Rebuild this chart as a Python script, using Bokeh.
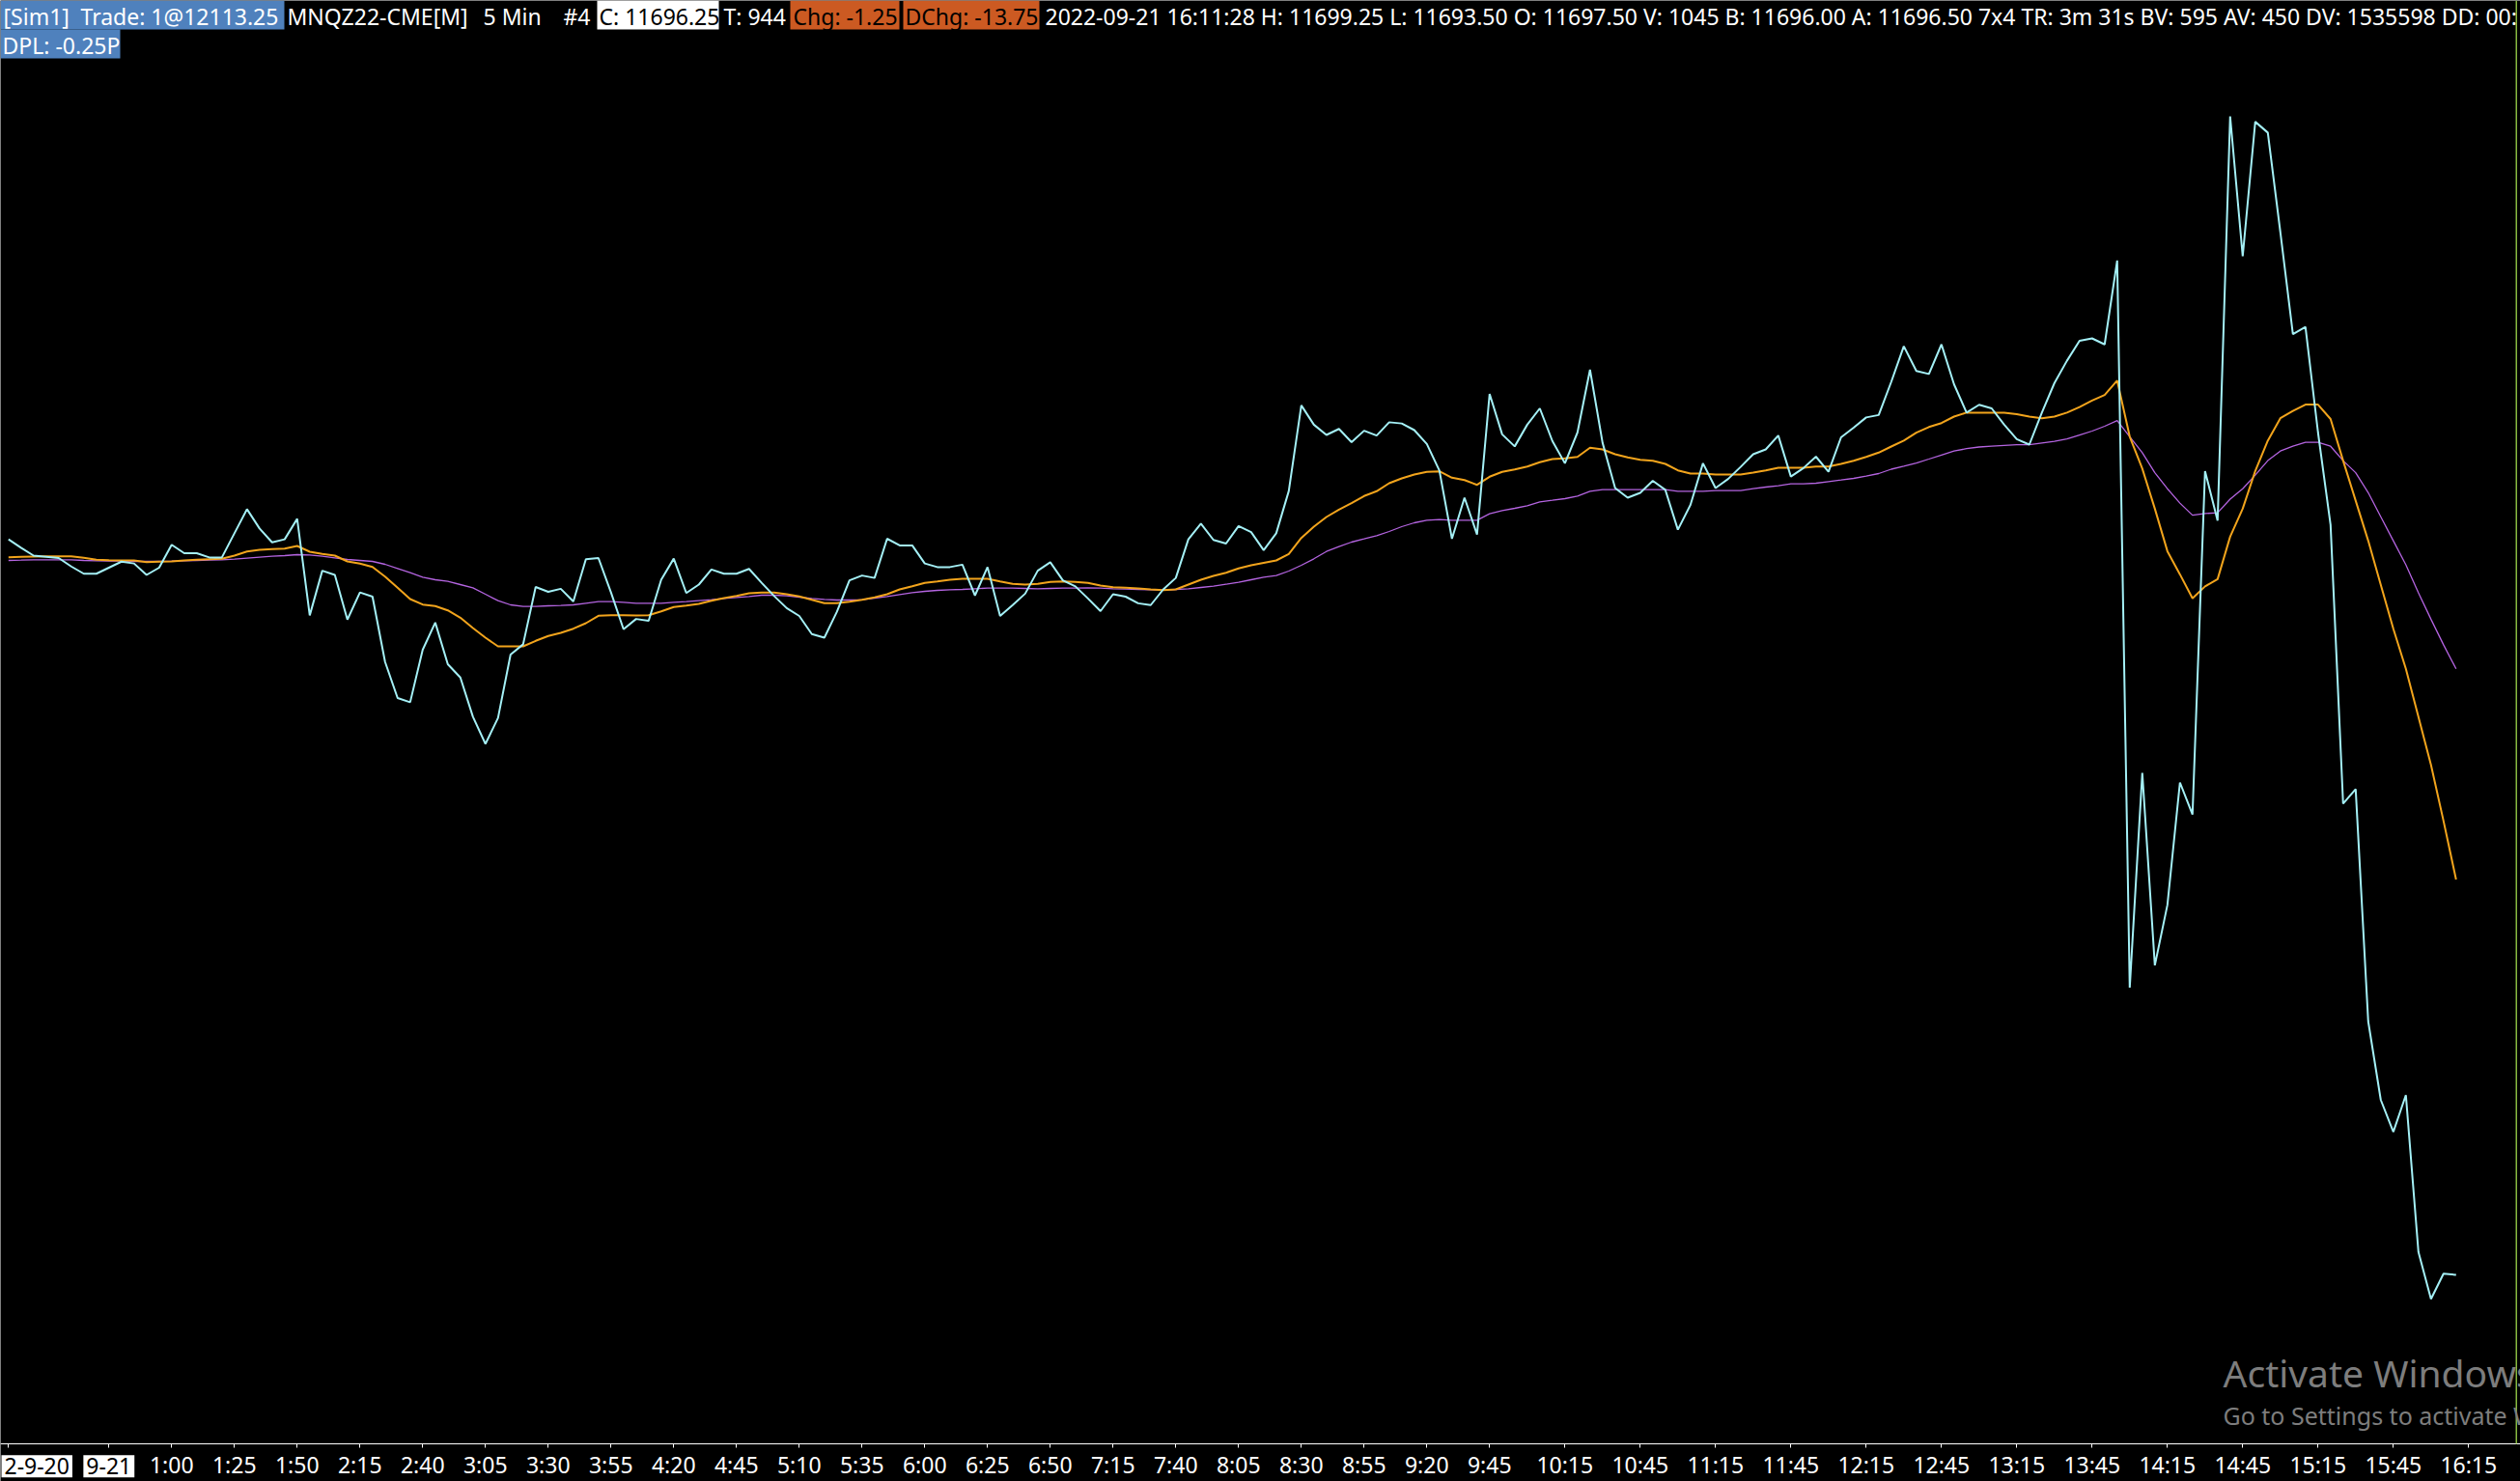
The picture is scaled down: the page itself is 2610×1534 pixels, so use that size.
from bokeh.plotting import figure
from bokeh.models import Range1d, LinearAxis, FixedTicker, Label, BoxAnnotation
from bokeh.embed import file_html
from bokeh.resources import INLINE

# ---------------- data ----------------
bars = list(range(196))  # 5-minute bars

close = [
    12001.0, 11997.5, 11994.25, 11993.75, 11993.25, 11989.75, 11986.75, 11986.75, 11989.25, 11991.75,
    11991.0, 11986.25, 11989.25, 11998.75, 11995.25, 11995.25, 11993.5, 11993.5, 12003.5, 12013.5,
    12005.5, 11999.75, 12001.0, 12009.5, 11969.5, 11988.0, 11986.25, 11967.75, 11979.0, 11977.25,
    11950.25, 11935.25, 11933.5, 11955.25, 11966.5, 11949.25, 11943.75, 11927.5, 11916.25, 11927.0,
    11953.25, 11957.5, 11981.25, 11979.25, 11980.5, 11975.25, 11992.75, 11993.25, 11979.0, 11963.75,
    11968.0, 11967.25, 11984.25, 11993.0, 11978.75, 11982.25, 11988.5, 11986.75, 11986.75, 11988.75,
    11983.0, 11977.5, 11972.5, 11969.25, 11961.75, 11960.25, 11971.0, 11984.0, 11986.0, 11985.0,
    12001.25, 11998.5, 11998.5, 11991.0, 11989.5, 11989.5, 11990.5, 11977.75, 11989.5, 11969.25,
    11973.75, 11978.5, 11988.0, 11991.5, 11984.0, 11981.5, 11976.5, 11971.25, 11978.25, 11977.25,
    11974.5, 11973.75, 11980.25, 11985.0, 12001.0, 12007.5, 12000.75, 11999.25, 12006.5, 12004.0,
    11996.5, 12003.5, 12021.0, 12056.5, 12048.5, 12044.25, 12046.75, 12041.25, 12046.0, 12044.0,
    12049.5, 12049.0, 12046.25, 12040.5, 12029.5, 12001.25, 12018.25, 12003.0, 12061.25, 12044.5,
    12039.5, 12048.5, 12055.25, 12041.75, 12032.5, 12045.25, 12071.25, 12041.0, 12022.25, 12018.25,
    12020.25, 12025.25, 12021.5, 12005.0, 12015.25, 12032.5, 12022.25, 12026.0, 12031.0, 12036.25,
    12038.25, 12044.0, 12027.0, 12030.5, 12035.25, 12029.0, 12043.25, 12047.25, 12051.5, 12052.5,
    12066.25, 12081.0, 12070.75, 12069.5, 12081.75, 12065.25, 12053.5, 12056.75, 12055.25, 12048.5,
    12042.5, 12040.25, 12053.5, 12065.75, 12075.0, 12083.25, 12084.25, 12081.75, 12116.5, 11815.25,
    11904.25, 11824.5, 11849.5, 11900.25, 11887.0, 12029.25, 12008.75, 12176.25, 12118.25, 12174.0,
    12169.5, 12128.25, 12086.0, 12089.0, 12045.25, 12007.0, 11891.5, 11897.5, 11801.25, 11768.75,
    11755.5, 11770.75, 11705.75, 11686.25, 11696.75, 11696.25,
]

avg_fast = [
    11993.57, 11993.73, 11993.85, 11993.93, 11993.97, 11993.97, 11993.33, 11992.53, 11992.37, 11992.25,
    11992.25, 11991.57, 11991.73, 11991.85, 11992.25, 11992.53, 11992.77, 11992.93, 11994.25, 11995.97,
    11996.65, 11996.93, 11997.17, 11998.25, 11995.85, 11994.93, 11994.25, 11991.85, 11990.93, 11989.57,
    11985.57, 11980.93, 11976.25, 11973.97, 11973.33, 11971.57, 11968.53, 11964.25, 11960.25, 11956.65,
    11956.65, 11956.65, 11958.93, 11960.93, 11962.25, 11963.97, 11966.25, 11969.33, 11969.57, 11969.57,
    11969.45, 11969.57, 11971.17, 11972.93, 11973.57, 11974.25, 11975.57, 11976.65, 11977.57, 11978.65,
    11978.93, 11978.93, 11978.25, 11977.33, 11975.97, 11974.53, 11974.53, 11975.17, 11975.97, 11976.93,
    11978.25, 11980.25, 11981.57, 11982.93, 11983.57, 11984.25, 11984.65, 11984.65, 11984.65, 11983.57,
    11982.53, 11982.25, 11982.53, 11983.33, 11983.57, 11983.33, 11982.93, 11981.85, 11981.17, 11980.93,
    11980.65, 11980.25, 11979.97, 11980.25, 11982.25, 11984.25, 11985.85, 11987.17, 11988.93, 11990.25,
    11991.25, 11992.25, 11994.93, 12001.57, 12006.25, 12010.25, 12013.33, 12015.97, 12018.93, 12020.93,
    12024.25, 12026.25, 12027.85, 12028.93, 12029.17, 12026.53, 12025.57, 12023.57, 12026.93, 12028.93,
    12029.97, 12031.17, 12032.93, 12034.25, 12034.53, 12035.17, 12038.93, 12038.25, 12036.25, 12034.93,
    12033.97, 12033.57, 12032.25, 12029.57, 12028.25, 12028.25, 12027.85, 12027.85, 12027.85, 12028.65,
    12029.57, 12030.65, 12030.65, 12030.65, 12031.17, 12031.17, 12032.25, 12033.57, 12035.17, 12036.93,
    12039.45, 12041.89, 12045.21, 12047.53, 12049.17, 12051.85, 12053.49, 12053.49, 12053.49, 12053.49,
    12052.85, 12051.85, 12051.17, 12051.85, 12053.49, 12055.81, 12058.49, 12060.81, 12066.77, 12043.53,
    12030.29, 12013.69, 11996.09, 11986.49, 11976.53, 11981.49, 11984.49, 12002.09, 12013.69, 12029.29,
    12041.89, 12051.17, 12054.17, 12056.81, 12056.81, 12050.85, 12033.61, 12017.01, 12000.41, 11982.17,
    11963.93, 11947.33, 11927.41, 11907.53, 11884.29, 11860.05,
]

avg_slow = [
    11992.25, 11992.37, 11992.53, 11992.53, 11992.53, 11992.53, 11992.25, 11992.13, 11991.97, 11991.97,
    11991.85, 11991.85, 11991.85, 11991.97, 11992.13, 11992.25, 11992.37, 11992.53, 11992.77, 11993.17,
    11993.57, 11993.97, 11994.25, 11994.65, 11994.53, 11993.97, 11993.33, 11992.65, 11992.25, 11991.85,
    11990.65, 11988.93, 11987.17, 11985.33, 11984.25, 11983.57, 11982.25, 11980.93, 11978.25, 11975.57,
    11973.85, 11973.17, 11973.17, 11973.45, 11973.57, 11973.85, 11974.53, 11975.17, 11975.17, 11974.93,
    11974.53, 11974.53, 11974.53, 11974.93, 11975.17, 11975.57, 11975.97, 11976.53, 11976.93, 11977.33,
    11977.85, 11977.85, 11977.57, 11977.05, 11976.53, 11976.13, 11975.85, 11975.85, 11975.97, 11976.65,
    11977.33, 11978.13, 11978.93, 11979.45, 11979.85, 11980.13, 11980.25, 11980.53, 11980.77, 11980.77,
    11980.77, 11980.65, 11980.53, 11980.65, 11980.77, 11980.77, 11980.93, 11980.77, 11980.53, 11980.37,
    11980.25, 11980.13, 11979.97, 11980.25, 11980.53, 11981.05, 11981.57, 11982.37, 11983.17, 11984.25,
    11985.33, 11985.97, 11987.85, 11990.25, 11992.93, 11995.97, 11997.97, 11999.85, 12001.17, 12002.53,
    12004.25, 12006.25, 12007.85, 12008.93, 12009.17, 12008.93, 12008.93, 12008.93, 12011.57, 12012.93,
    12013.85, 12014.93, 12016.53, 12017.17, 12017.85, 12018.93, 12020.93, 12021.57, 12021.57, 12021.57,
    12021.57, 12021.57, 12021.57, 12020.93, 12020.93, 12020.93, 12021.17, 12021.17, 12021.17, 12021.97,
    12022.65, 12023.17, 12023.97, 12023.97, 12024.25, 12024.93, 12025.57, 12026.25, 12027.17, 12028.25,
    12030.05, 12031.29, 12032.61, 12034.25, 12035.93, 12037.57, 12038.57, 12039.25, 12039.57, 12039.89,
    12040.21, 12040.21, 12040.89, 12041.57, 12042.57, 12044.21, 12045.85, 12047.85, 12050.17, 12043.53,
    12036.93, 12028.61, 12021.97, 12016.01, 12011.01, 12011.69, 12012.01, 12017.65, 12021.97, 12027.61,
    12033.61, 12037.57, 12039.57, 12041.21, 12041.21, 12039.57, 12033.61, 12028.61, 12020.33, 12010.37,
    12000.41, 11990.45, 11978.85, 11967.89, 11957.29, 11947.33,
]

tick_bars = [0, 8, 13, 18, 23, 28, 33, 38, 43, 48, 53, 58, 63, 68, 73, 78, 83, 88, 93, 98,
             103, 108, 113, 118, 124, 130, 136, 142, 148, 154, 160, 166, 172, 178, 184, 190, 196]
tick_labels = ["2-9-20", "9-21", "1:00", "1:25", "1:50", "2:15", "2:40", "3:05", "3:30", "3:55",
               "4:20", "4:45", "5:10", "5:35", "6:00", "6:25", "6:50", "7:15", "7:40", "8:05",
               "8:30", "8:55", "9:20", "9:45", "10:15", "10:45", "11:15", "11:45", "12:15", "12:45",
               "13:15", "13:45", "14:15", "14:45", "15:15", "15:45", "16:15"]
date_ticks = {"2-9-20", "9-21"}

header_row1 = [
    ("[Sim1]", "#ffffff"), ("Trade: 1@12113.25", "#ffffff"),
    ("MNQZ22-CME[M]", "#ffffff"), ("5 Min", "#ffffff"), ("#4", "#ffffff"),
    ("C: 11696.25", "#000000"), ("T: 944", "#ffffff"),
    ("Chg: -1.25", "#000000"), ("DChg: -13.75", "#000000"),
    ("2022-09-21 16:11:28 H: 11699.25 L: 11693.50 O: 11697.50 V: 1045 B: 11696.00 "
     "A: 11696.50 7x4 TR: 3m 31s BV: 595 AV: 450 DV: 1535598 DD: 00:", "#ffffff"),
]
header_row2 = "DPL: -0.25P"

# ---------------- layout constants (pixels) ----------------
W, H = 2610, 1534
BAR0, BAR_W = 8.3, 13.0      # x of first bar, bar spacing
AXIS_Y = 1495                # y of the time axis line
PX_PER_PT = 2.5
P_AT_TOP = 12224.25          # price shown at the top edge
DESC = 0.29                  # label anchor offset (fraction of font size)

FONT = "Noto Sans"
FS = 23
CYAN, ORANGE, PURPLE = "#a4f0f6", "#f2a41c", "#b464e0"
BLUE, ORANGE_BG, GREEN = "#4f81bd", "#cc5a22", "#86b840"

p = figure(width=W, height=H,
           x_range=Range1d(-BAR0 / BAR_W, (W - BAR0) / BAR_W),
           y_range=Range1d(P_AT_TOP - H / PX_PER_PT, P_AT_TOP),
           x_axis_location=None, y_axis_location=None,
           toolbar_location=None, tools="", output_backend="svg",
           background_fill_color="black", border_fill_color="black",
           outline_line_color=None, min_border=0)
p.grid.grid_line_color = None

axis = LinearAxis(ticker=FixedTicker(ticks=tick_bars),
                  major_label_overrides={b: ("" if l in date_ticks else l)
                                         for b, l in zip(tick_bars, tick_labels)},
                  fixed_location=P_AT_TOP - AXIS_Y / PX_PER_PT)
axis.axis_line_color = "#ffffff"
axis.axis_line_width = 1
axis.major_tick_line_color = "#ffffff"
axis.major_tick_out = 4
axis.major_tick_in = 0
axis.minor_tick_line_color = None
axis.major_label_text_color = "#ffffff"
axis.major_label_text_font = FONT
axis.major_label_text_font_size = f"{FS}px"
axis.major_label_standoff = 1
p.add_layout(axis, "below")

p.line(bars, avg_slow, color=PURPLE, line_width=1.3)
p.line(bars, avg_fast, color=ORANGE, line_width=2)
p.line(bars, close, color=CYAN, line_width=2)


def box(x0, x1, y0, y1, color):
    p.add_layout(BoxAnnotation(left=x0, right=x1, top=H - y0, bottom=H - y1,
                               left_units="screen", right_units="screen",
                               top_units="screen", bottom_units="screen",
                               fill_color=color, fill_alpha=1.0, line_color=None))


def text(x, baseline, s, color="#ffffff", size=FS, x_units="screen", align="left", **kw):
    p.add_layout(Label(x=x, y=H - baseline + DESC * size, x_units=x_units, y_units="screen",
                       text=s, text_color=color, text_font=FONT, text_font_size=f"{size}px",
                       text_baseline="alphabetic", text_align=align, **kw))


# right-hand border line of the price pane
box(2605, 2606.5, 0, AXIS_Y, GREEN)

# header boxes
box(0, 294, 0, 30, BLUE)
box(618, 744, 0, 30, "#ffffff")
box(818, 931, 0, 30, ORANGE_BG)
box(935, 1076, 0, 30, ORANGE_BG)
box(0, 124, 30, 60, BLUE)

for x, (s, c) in zip([3, 83, 297, 500, 583, 620, 749, 821, 937, 1082], header_row1):
    text(x, 23, s, c)
text(2, 53, header_row2)

# highlighted date labels on the time axis
for b, l in zip(tick_bars, tick_labels):
    if l in date_ticks:
        if b == 0:
            text(1, 1525, l, "#000000", background_fill_color="#ffffff", padding=3)
        else:
            text(b, 1525, l, "#000000", x_units="data", align="center",
                 background_fill_color="#ffffff", padding=3)

# watermark
text(2302, 1432, "Activate Windows", "#7d7d7d", 39)
text(2302, 1473, "Go to Settings to activate Windows.", "#7d7d7d", 25)

open("out.html", "w").write(file_html(p, INLINE))
